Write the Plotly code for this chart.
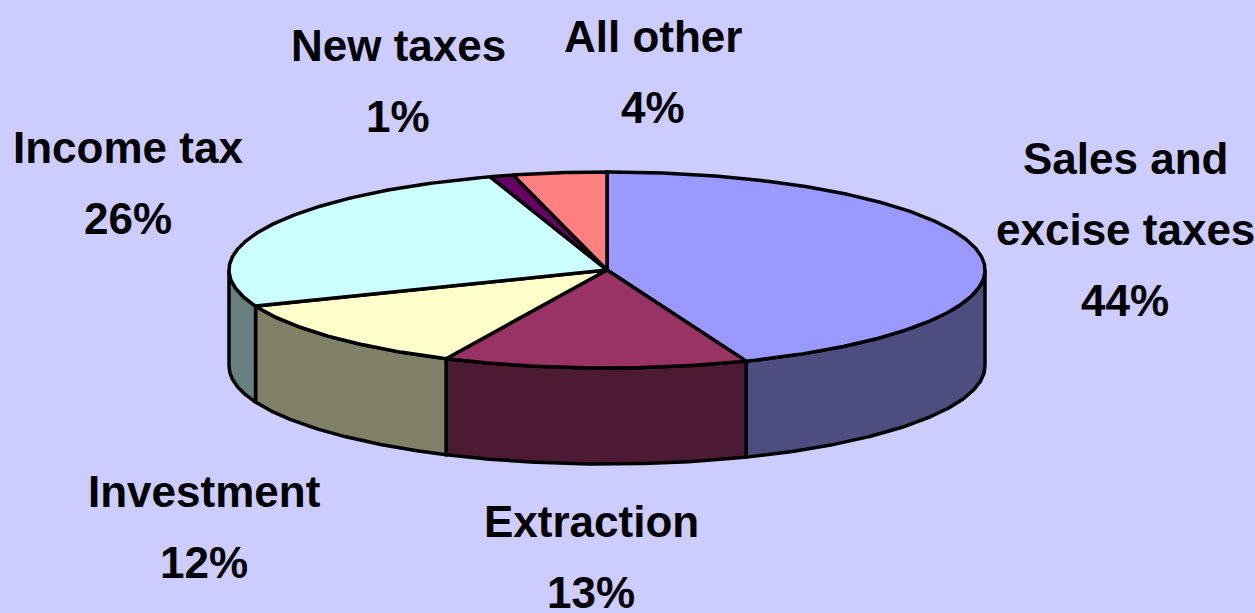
import numpy as np
import plotly.graph_objects as go

# ---- data ----
labels = ["Sales and<br>excise taxes", "Extraction", "Investment", "Income tax", "New taxes", "All other"]
values = [44, 13, 12, 26, 1, 4]
top_colors = ["#9999FF", "#993366", "#FFFFCC", "#CCFFFF", "#660066", "#FF8080"]
side_colors = ["#4D4D80", "#4D1A33", "#808066", "#668080", "#330033", "#804040"]

# label block anchor (centre x, y of first line) — layout only
label_pos = [(1125, 158), (591, 521), (204, 491), (128, 147), (398, 45), (653, 36)]
LINE_GAP = 71

# ---- geometry (pixel space) ----
W, H = 1255, 613
CX, CY, RX, RY, DEPTH = 607, 270, 378, 98, 96
BG = "#CCCCFF"


def pt(theta_deg, dy=0.0):
    t = np.radians(theta_deg)
    return CX + RX * np.sin(t), CY - RY * np.cos(t) + dy


fig = go.Figure()
total = float(sum(values))
starts = []
acc = 0.0
for v in values:
    starts.append(acc / total * 360.0)
    acc += v
ends = starts[1:] + [360.0]

LW = 3.5

# side walls (front half only: 90..270 deg)
for a0, a1, sc in zip(starts, ends, side_colors):
    lo, hi = max(a0, 90.0), min(a1, 270.0)
    if hi <= lo:
        continue
    th = np.linspace(lo, hi, 120)
    xt, yt = pt(th)
    xb, yb = pt(th[::-1], DEPTH)
    xs = np.concatenate([xt, xb, xt[:1]])
    ys = np.concatenate([yt, yb, yt[:1]])
    fig.add_trace(go.Scatter(x=xs, y=ys, mode="lines", fill="toself", fillcolor=sc,
                             line=dict(color="black", width=LW), hoverinfo="skip", showlegend=False))

# top faces
for a0, a1, tc in zip(starts, ends, top_colors):
    th = np.linspace(a0, a1, max(8, int((a1 - a0) * 2)))
    xt, yt = pt(th)
    xs = np.concatenate([[CX], xt, [CX]])
    ys = np.concatenate([[CY], yt, [CY]])
    fig.add_trace(go.Scatter(x=xs, y=ys, mode="lines", fill="toself", fillcolor=tc,
                             line=dict(color="black", width=LW), hoverinfo="skip", showlegend=False))

annotations = []
FONT = dict(family="Liberation Sans, Arial, sans-serif", size=44, color="black", weight="bold")
for lab, v, (lx, ly) in zip(labels, values, label_pos):
    lines = lab.split("<br>") + [f"{v}%"]
    for i, line in enumerate(lines):
        annotations.append(dict(x=lx, y=ly + i * LINE_GAP, xref="x", yref="y", text=line,
                                showarrow=False, xanchor="center", yanchor="middle", font=FONT))

fig.update_layout(
    width=W, height=H,
    margin=dict(l=0, r=0, t=0, b=0),
    paper_bgcolor=BG, plot_bgcolor=BG,
    xaxis=dict(range=[0, W], visible=False, fixedrange=True),
    yaxis=dict(range=[H, 0], visible=False, fixedrange=True),
    annotations=annotations,
    showlegend=False,
)

fig.write_html("out.html", config={"displayModeBar": False},
               post_script="document.body.style.margin='0';document.body.style.overflow='hidden';")
